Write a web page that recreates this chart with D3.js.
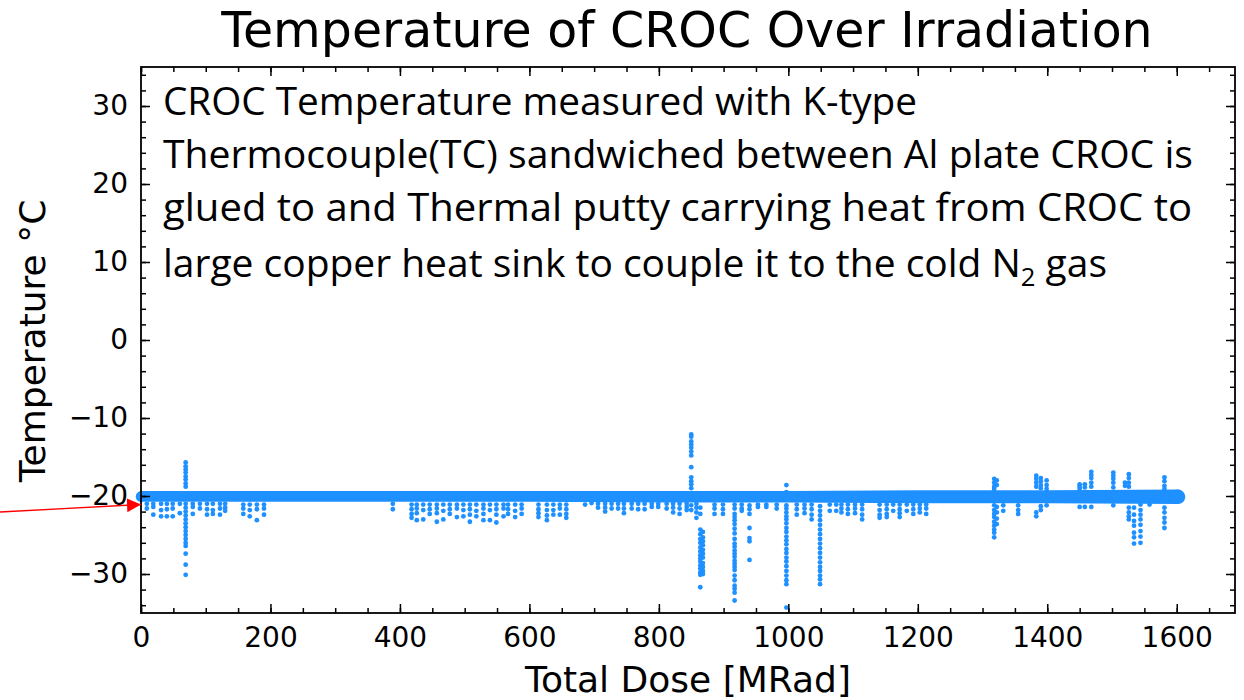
<!DOCTYPE html>
<html>
<head>
<meta charset="utf-8">
<script src="https://cdn.jsdelivr.net/npm/d3@7"></script>
<style>
  body { margin: 0; background: #fff; }
  svg { display: block; }
  .tick text { font-family: "DejaVu Sans", sans-serif; font-size: 28px; fill: #000; }
  .tick line { stroke: #000; stroke-width: 1.5; }
  .domain { display: none; }
</style>
</head>
<body>
<script>
// tick labels
const xTicks = [0, 200, 400, 600, 800, 1000, 1200, 1400, 1600];
const yTicks = [-30, -20, -10, 0, 10, 20, 30];

// main band of readings near -20 C
const bandDose = [0, 200, 400, 600, 800, 1000, 1200, 1400, 1602];
const bandTop = [-19.5, -19.5, -19.5, -19.5, -19.5, -19.5, -19.4, -19.4, -19.3];
const bandBottom = [-20.6, -20.6, -20.6, -20.6, -20.7, -20.7, -20.8, -20.8, -20.9];

// excursions off the band: [dose, temperatures]
const excursions = [
  [9, [-21.0, -21.6]], [19, [-21.0, -21.4, -22.4]], [31, [-21.0, -21.8, -22.6]],
  [40, [-21.0, -21.7, -22.6]], [49, [-21.0, -21.6, -22.6]], [60, [-21.0, -22.2]],
  [69, [-15.7, -16.2, -16.6, -17.0, -17.5, -17.9, -18.4, -18.8, -21.0, -21.5, -22.0, -22.5, -23.0,
        -23.5, -24.0, -24.5, -25.0, -25.5, -26.0, -26.4, -27.4, -28.8, -30.1]],
  [80, [-21.0, -21.4, -22.3]], [91, [-21.0, -21.6]], [102, [-21.0, -21.7, -22.4]],
  [111, [-21.0, -21.8, -22.3]], [122, [-21.0, -21.6, -22.4]], [130, [-21.0, -21.5, -21.9]],
  [158, [-21.1, -21.6, -22.3]], [168, [-21.1, -21.8, -22.6]], [179, [-21.1, -21.7, -23.1]],
  [190, [-21.1, -21.6, -22.4]], [389, [-21.0, -21.7]],
  [418, [-21.1, -21.7, -22.3, -22.8]], [426, [-21.1, -21.6, -22.2, -23.1]], [436, [-21.1, -21.8, -23.0]],
  [446, [-21.1, -21.7, -22.3]], [457, [-21.1, -21.6, -22.2, -23.3]], [467, [-21.1, -21.9, -23.0]],
  [477, [-21.1, -21.7, -22.3]], [488, [-21.1, -21.6, -22.7]], [498, [-21.1, -21.8, -22.6]],
  [508, [-21.1, -21.7, -22.4, -23.3]], [518, [-21.1, -21.9, -22.6]], [529, [-21.1, -21.6, -22.3, -23.1]],
  [539, [-21.1, -21.8, -23.1]], [549, [-21.1, -21.7, -22.4, -23.4]], [560, [-21.1, -21.6, -22.6]],
  [567, [-21.1, -21.7, -22.3]], [578, [-21.1, -21.9, -22.7]], [588, [-21.1, -21.6, -22.3]],
  [614, [-21.1, -21.7, -22.2, -22.7]], [627, [-21.1, -21.8, -22.5, -23.1]], [637, [-21.1, -21.8, -22.4]],
  [647, [-21.1, -21.6, -22.4]], [657, [-21.1, -21.7, -22.3, -22.8]],
  [686, [-21.1]], [696, [-20.9]], [706, [-21.0, -21.5]], [717, [-21.0, -21.5, -22.0]],
  [727, [-21.0, -21.6]], [737, [-21.0, -21.6]], [746, [-21.0, -21.6, -22.2]], [758, [-21.0, -21.6]],
  [768, [-21.0, -21.7]], [778, [-21.0, -21.7]], [789, [-21.0, -21.4]], [799, [-21.0, -21.4]],
  [812, [-21.0, -21.6]], [822, [-21.0, -21.5, -22.1]], [832, [-21.0, -21.6, -22.3]], [843, [-21.0, -21.4, -21.8]],
  [850, [-12.1, -12.4, -13.0, -13.4, -13.8, -14.3, -14.8, -16.3, -17.6, -18.1, -18.5, -19.0, -21.2, -21.8]],
  [858, [-21.0, -21.5, -22.1, -22.8]],
  [864, [-21.5, -22.3, -24.3, -24.9, -25.5, -26.0, -26.6, -27.1, -27.6, -28.0, -28.4, -28.9, -29.3, -29.8, -30.1, -31.7]],
  [868, [-24.6, -25.3, -25.8, -26.3, -26.9, -27.4, -27.9, -28.6, -29.1, -29.6, -30.0]],
  [886, [-21.1, -21.6, -22.3]], [899, [-21.1, -21.7, -22.3]],
  [917, [-21.1, -21.6, -22.3, -22.7, -23.1, -23.6, -24.2, -24.8, -25.5, -26.1, -26.5, -27.0, -27.4, -27.8,
         -28.3, -28.7, -29.1, -29.5, -30.2, -30.8, -31.5, -31.9, -32.4, -33.4]],
  [928, [-21.1, -21.6, -21.9]], [940, [-21.2, -21.7, -22.3, -24.1, -25.4, -25.8, -28.2]],
  [953, [-21.1, -21.4]], [966, [-21.1, -21.4]], [982, [-21.1, -21.6]],
  [997, [-18.6, -19.5, -21.2, -21.6, -22.1, -22.6, -23.0, -23.5, -24.1, -24.6, -25.2, -25.7, -26.2, -26.8,
         -27.3, -27.9, -28.4, -29.0, -29.6, -30.2, -30.8, -31.3, -34.3]],
  [1013, [-21.1, -21.7, -22.4]], [1025, [-21.1, -21.6, -22.2]], [1036, [-21.1, -21.7, -22.4, -23.0]],
  [1049, [-19.7, -21.3, -21.9, -22.5, -23.1, -23.7, -24.3, -24.9, -25.5, -26.1, -26.7, -27.3, -27.9,
          -28.5, -29.1, -29.6, -30.2, -30.7, -31.3]],
  [1064, [-21.1, -21.9]], [1074, [-21.1, -21.9]], [1082, [-21.1, -21.6, -22.1]], [1092, [-21.1, -21.7, -22.3]],
  [1103, [-21.1, -21.6, -22.2]], [1114, [-21.1, -21.7, -22.4, -23.0]], [1141, [-21.1, -21.8, -22.4, -22.8]],
  [1152, [-21.1, -21.7, -22.3, -22.7]], [1162, [-21.1, -21.9]], [1172, [-21.1, -21.7, -22.2, -22.7]],
  [1183, [-21.1, -21.9]], [1193, [-21.1, -21.7, -22.3]], [1203, [-21.1, -21.6, -22.1]], [1213, [-21.1, -21.6, -22.3]],
  [1318, [-17.8, -18.3, -18.8, -19.1, -21.2, -21.8, -22.3, -22.7, -23.3, -23.8, -24.3, -24.7, -25.3]],
  [1322, [-18.0, -18.6, -21.4, -22.1, -22.9, -23.6]], [1332, [-21.2, -21.9]], [1355, [-21.2, -21.8, -22.3]],
  [1383, [-17.4, -17.8, -18.3, -18.8, -22.1, -22.6]], [1390, [-17.7, -18.1, -18.6, -19.0, -21.3, -21.8]],
  [1399, [-18.0, -18.6, -19.1, -21.2]],
  [1450, [-18.5, -18.8, -19.1, -21.4]], [1458, [-18.5, -18.9, -21.4]],
  [1468, [-16.9, -17.3, -17.7, -18.3, -18.8, -21.4]], [1502, [-17.0, -17.4, -17.8, -18.3, -18.9, -21.2]],
  [1520, [-18.3, -18.7]], [1526, [-17.2, -17.7, -18.3, -18.8, -21.5, -22.1, -22.6, -23.0]],
  [1534, [-21.5, -22.4, -23.2, -23.8, -24.7, -25.3, -26.1]],
  [1544, [-21.1, -21.8, -22.4, -23.0, -23.7, -24.5, -25.2, -26.0]], [1558, [-21.1]],
  [1581, [-17.6, -18.1, -18.7, -19.1, -21.5, -22.1, -22.8, -23.4, -24.1]]
];

const noteLines = [
  "CROC Temperature measured with K-type",
  "Thermocouple(TC) sandwiched between Al plate CROC is",
  "glued to and Thermal putty carrying heat from CROC to",
  "large copper heat sink to couple it to the cold N"
];

const width = 1244, height = 700;
const plotLeft = 141, plotRight = 1235, plotTop = 67, plotBottom = 613;
const blue = "#1E90FF";

const svg = d3.select("body").append("svg")
  .attr("width", width).attr("height", height);

const x = d3.scaleLinear().domain([0, 1690]).range([plotLeft, plotRight]);
const y = d3.scaleLinear().domain([-35, 35]).range([plotBottom, plotTop]);

// band
const band = bandDose.map((d, i) => ({ dose: d, hi: bandTop[i], lo: bandBottom[i] }));
svg.append("path")
  .datum(band)
  .attr("d", d3.area().x(d => x(d.dose)).y0(d => y(d.lo)).y1(d => y(d.hi)))
  .attr("fill", blue).attr("stroke", blue).attr("stroke-width", 2);

const points = excursions.flatMap(([dose, temps]) => temps.map(t => ({ dose, t })));
svg.append("g").selectAll("circle")
  .data(points)
  .enter().append("circle")
  .attr("cx", d => x(d.dose)).attr("cy", d => y(d.t)).attr("r", 2.4)
  .attr("fill", blue);

// end caps of the band
svg.append("g").selectAll("circle")
  .data([band[0], band[band.length - 1]])
  .enter().append("circle")
  .attr("cx", d => x(d.dose)).attr("cy", d => y((d.hi + d.lo) / 2))
  .attr("r", d => (y(d.lo) - y(d.hi)) / 2 + 1)
  .attr("fill", blue);

// axes, ticks pointing inward on all sides
const xMinor = d3.range(0, 1691, 50);
const yMinor = d3.range(-34, 35, 2);

svg.append("g").attr("transform", `translate(0,${plotBottom})`)
  .call(d3.axisBottom(x).tickValues(xMinor).tickSize(-5).tickFormat(""));
svg.append("g").attr("transform", `translate(0,${plotBottom})`)
  .call(d3.axisBottom(x).tickValues(xTicks).tickSize(-9).tickPadding(14).tickFormat(d3.format("d")));
svg.append("g").attr("transform", `translate(0,${plotTop})`)
  .call(d3.axisTop(x).tickValues(xMinor).tickSize(-5).tickFormat(""));
svg.append("g").attr("transform", `translate(0,${plotTop})`)
  .call(d3.axisTop(x).tickValues(xTicks).tickSize(-9).tickFormat(""));

svg.append("g").attr("transform", `translate(${plotLeft},0)`)
  .call(d3.axisLeft(y).tickValues(yMinor).tickSize(-5).tickFormat(""));
svg.append("g").attr("transform", `translate(${plotLeft},0)`)
  .call(d3.axisLeft(y).tickValues(yTicks).tickSize(-9).tickPadding(13)
    .tickFormat(d => d < 0 ? "\u2212" + Math.abs(d) : d));
svg.append("g").attr("transform", `translate(${plotRight},0)`)
  .call(d3.axisRight(y).tickValues(yMinor).tickSize(-5).tickFormat(""));
svg.append("g").attr("transform", `translate(${plotRight},0)`)
  .call(d3.axisRight(y).tickValues(yTicks).tickSize(-9).tickFormat(""));

svg.append("rect")
  .attr("x", plotLeft).attr("y", plotTop)
  .attr("width", plotRight - plotLeft).attr("height", plotBottom - plotTop)
  .attr("fill", "none").attr("stroke", "#000").attr("stroke-width", 1.8);

// titles
svg.append("text")
  .attr("x", 687).attr("y", 47).attr("text-anchor", "middle")
  .style("font-family", "DejaVu Sans").style("font-size", "49px")
  .text("Temperature of CROC Over Irradiation");
svg.append("text")
  .attr("x", 688).attr("y", 692).attr("text-anchor", "middle")
  .style("font-family", "DejaVu Sans").style("font-size", "36px")
  .text("Total Dose [MRad]");
svg.append("text")
  .attr("transform", "translate(45,341) rotate(-90)").attr("text-anchor", "middle")
  .style("font-family", "DejaVu Sans").style("font-size", "36px")
  .text("Temperature \u00B0C");

// annotation
const noteY = [115, 168, 221, 277];
const noteW = [754, 1030, 1029, 944];
noteLines.forEach((line, i) => {
  const t = svg.append("text")
    .attr("x", 163).attr("y", noteY[i])
    .style("font-family", "Open Sans").style("font-size", "38px")
    .text(line);
  if (i === 3) {
    t.append("tspan").attr("dy", 9).style("font-size", "25px").text("2");
    t.append("tspan").attr("dy", -9).text(" gas");
  }
  t.attr("textLength", noteW[i]).attr("lengthAdjust", "spacingAndGlyphs");
});

// arrow pointing at the -20 level
svg.append("defs").append("marker")
  .attr("id", "head").attr("viewBox", "0 0 10 10").attr("refX", 10).attr("refY", 5)
  .attr("markerWidth", 14).attr("markerHeight", 15).attr("markerUnits", "userSpaceOnUse")
  .attr("orient", "auto")
  .append("path").attr("d", "M0,0L10,5L0,10Z").attr("fill", "#FF0000");
svg.append("line")
  .attr("x1", 0).attr("y1", 512).attr("x2", plotLeft).attr("y2", 504.5)
  .attr("stroke", "#FF0000").attr("stroke-width", 1.3)
  .attr("marker-end", "url(#head)");
</script>
</body>
</html>
